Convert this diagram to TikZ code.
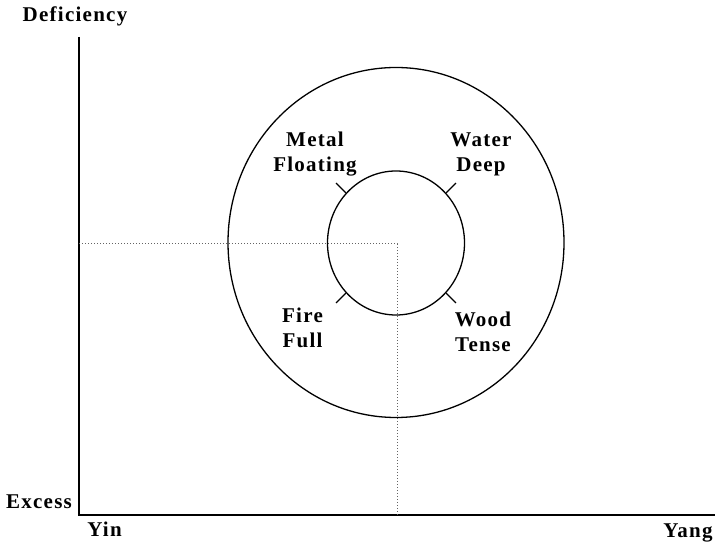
\documentclass[tikz,border=0pt]{standalone}
\usepackage{fontspec}
\setmainfont{Liberation Serif}
\newfontfamily\lblfont[LetterSpace=6]{Liberation Serif Bold}
\usepackage{tikz}
\usetikzlibrary{positioning, shapes.geometric}
\definecolor{dotgray}{RGB}{100,100,100}

\begin{document}
\begin{tikzpicture}[x=1pt, y=1pt,
    lbl/.style={font=\lblfont\fontsize{21}{25.5}\selectfont, inner sep=0pt, align=center, anchor=base},
    axisline/.style={line width=1.7pt},
    ring/.style={draw, line width=1.3pt, inner sep=0pt},
    guide/.style={dotgray, line width=1pt, dash pattern=on 1pt off 2pt},
    tick/.style={line width=1.1pt}]
  \useasboundingbox (0,0) rectangle (715,543);
  \coordinate (origin) at (79,28);
  \coordinate (ytop) at (79,506);
  \coordinate (xend) at (715,28);
  \draw[axisline] (ytop) -- (origin) -- (xend);
  \node[lbl] (deficiency) at (75,521) {Deficiency};
  \node[lbl] (excess) at (39,34) {Excess};
  \node[lbl] (yin) at (104.5,6) {Yin};
  \node[lbl] (yang) at (688,5) {Yang};
  % balance point and guides
  \coordinate (centre) at (397,299);
  \draw[guide] (origin |- centre) -- (centre) -- (centre |- origin);
  \node[ring, ellipse, minimum width=336pt, minimum height=350pt] (outer) at (396,300.5) {};
  \node[ring, ellipse, minimum width=137pt, minimum height=144pt] (inner) at (396,300) {};
  \foreach \a in {45,135,225,315}
    \draw[tick] (inner.\a) -- ++(\a:14);
  \node[lbl] (metal) at (315,371) {Metal\\Floating};
  \node[lbl] (water) at (481,371) {Water\\Deep};
  \node[lbl] (fire) at (302.5,195) {Fire\\Full};
  \node[lbl] (wood) at (483,191) {Wood\\Tense};
\end{tikzpicture}
\end{document}
